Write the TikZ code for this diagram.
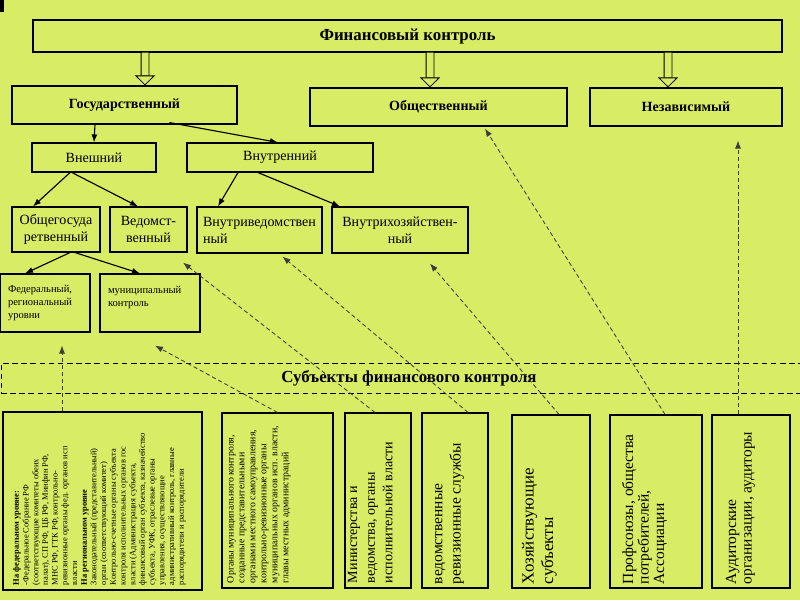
\documentclass[tikz,border=0pt]{standalone}
\usepackage{fontspec}
\setmainfont{Liberation Serif}
\usetikzlibrary{arrows.meta}
\definecolor{bgcol}{RGB}{216,236,102}
\definecolor{dashcol}{RGB}{60,60,60}
\newcommand{\pxu}{0.025cm}
\tikzset{
  box/.style={draw, line width=0.8pt, inner sep=1pt, align=center},
  head/.style={box, font=\bfseries\fontsize{10}{12}\selectfont},
  sub/.style={box, font=\fontsize{10}{12}\selectfont},
  small/.style={box, align=left, font=\fontsize{7.5}{9.5}\selectfont},
  vtext/.style={rotate=90, anchor=north west, align=left, inner sep=0pt},
  hollow/.style={double=bgcol, double distance=7*\pxu, line width=0.6pt,
    -{Triangle[open, length=10*\pxu, width=20*\pxu]}},
  dashto/.style={dashcol, line width=0.6pt, dash pattern=on 3pt off 2pt,
    -{Latex[length=2mm, width=1.5mm]}, >={Latex}},
}
\begin{document}
\begin{tikzpicture}[x=0.025cm, y=-0.025cm, ->, >={Latex[length=2mm, width=1.5mm]}, line width=0.8pt]
  \fill[bgcol] (0,0) rectangle (800,600);
  \fill[black] (0,0) rectangle (4,12);
  \useasboundingbox (0,0) rectangle (800,600);

  \node[head, font=\bfseries\fontsize{12}{14}\selectfont, minimum width=749*\pxu, minimum height=32*\pxu] (fin) at (407.5,36) {Финансовый контроль};
  \node[head, minimum width=225*\pxu, minimum height=38*\pxu] (gos) at (124.5,105) {Государственный};
  \node[head, minimum width=257*\pxu, minimum height=38*\pxu] (obsh) at (438.5,107) {Общественный};
  \node[head, minimum width=192*\pxu, minimum height=38*\pxu] (nez) at (686,107) {Независимый};

  \node[sub, minimum width=124*\pxu, minimum height=29*\pxu] (vnesh) at (94,157.5) {Внешний};
  \node[sub, minimum width=186*\pxu, minimum height=29*\pxu] (vnutr) at (280,157.5) {Внутренний};

  \node[sub, minimum width=88*\pxu, minimum height=45*\pxu] (obshg) at (56,229.5) {Общегосуда\\ретвенный};
  \node[sub, minimum width=77*\pxu, minimum height=45*\pxu] (vedm) at (148.5,229.5) {Ведомст-\\венный};
  \node[sub, align=left, minimum width=125*\pxu, minimum height=46*\pxu] (vnved) at (259.5,230) {Внутриведомствен\\ный};
  \node[sub, minimum width=136*\pxu, minimum height=46*\pxu] (vnhoz) at (400,230) {Внутрихозяйствен-\\ный};

  \node[small, text width=74*\pxu, inner xsep=8*\pxu, minimum height=58*\pxu] (fed) at (45,303) {Федеральный,\\региональный\\уровни};
  \node[small, text width=84*\pxu, inner xsep=8*\pxu, minimum height=58*\pxu] (mun) at (150,303) {муниципальный\\контроль\\ ~};

  \draw[hollow] ([xshift=-262.5*\pxu]fin.south) -- ([xshift=20.5*\pxu]gos.north);
  \draw[hollow] ([xshift=22.5*\pxu]fin.south) -- ([xshift=-8.5*\pxu]obsh.north);
  \draw[hollow] ([xshift=260.5*\pxu]fin.south) -- ([xshift=-18*\pxu]nez.north);

  \draw ([xshift=-29.5*\pxu]gos.south) -- (vnesh.north);
  \draw ([xshift=45*\pxu,yshift=2*\pxu]gos.south) -- ([xshift=-2*\pxu]vnutr.north);
  \draw ([xshift=-24*\pxu]vnesh.south) -- ([xshift=-23*\pxu]obshg.north);
  \draw ([xshift=-22*\pxu]vnesh.south) -- ([xshift=-10.5*\pxu]vedm.north);
  \draw ([xshift=-42*\pxu]vnutr.south) -- ([xshift=-41.5*\pxu]vnved.north);
  \draw ([xshift=-22*\pxu]vnutr.south) -- ([xshift=-60*\pxu]vnhoz.north);
  \draw ([xshift=14*\pxu]obshg.south) -- ([xshift=-20*\pxu]fed.north);
  \draw ([xshift=19*\pxu]obshg.south) -- ([xshift=-10*\pxu]mun.north);

  \node[draw, line width=0.7pt, dash pattern=on 4pt off 2.5pt, minimum width=816*\pxu, minimum height=30*\pxu,
    font=\bfseries\fontsize{12}{14}\selectfont] (subj) at (409,378) {Субъекты финансового контроля};

  \node[box, minimum width=199*\pxu, minimum height=178*\pxu] (s1) at (102.5,501) {};
  \node[box, minimum width=111*\pxu, minimum height=175*\pxu] (s2) at (277.5,500.5) {};
  \node[box, minimum width=66*\pxu, minimum height=175*\pxu] (s3) at (378,500.5) {};
  \node[box, minimum width=66*\pxu, minimum height=175*\pxu] (s4) at (455,500.5) {};
  \node[box, minimum width=78*\pxu, minimum height=173*\pxu] (s5) at (551,501.5) {};
  \node[box, minimum width=92*\pxu, minimum height=173*\pxu] (s6) at (656,501.5) {};
  \node[box, minimum width=78*\pxu, minimum height=173*\pxu] (s7) at (751,501.5) {};

  \node[vtext, font=\fontsize{6}{6.9}\selectfont] (t1) at ([shift={(10,-5)}]s1.south west)
    {\textbf{На федеральном уровне:}\\-Федеральное Собрание РФ\\(соответствующие комитеты обеих\\палат), СП РФ, ЦБ РФ, Минфин РФ,\\МНС РФ, ГТК РФ, контрольно-\\ревизионные органы фед. органов исп\\власти\\\textbf{На региональном уровне}\\Законодательный (представительный)\\орган (соответствующий комитет)\\Контрольно-счетные органы субъекта\\контроля исполнительных органов гос\\власти (Администрация субъекта,\\финансовый орган субъекта, казначейство\\субъекта, УФК, отраслевые органы\\управления, осуществляющие\\административный контроль, главные\\распорядители и распорядители};
  \node[vtext, font=\fontsize{7}{7.8}\selectfont] (t2) at ([shift={(5,-5)}]s2.south west)
    {Органы муниципального контроля,\\созданные представительными\\органами местного самоуправления,\\контрольно-ревизионные органы\\муниципальных органов исп. власти,\\главы местных администраций};
  \node[vtext, font=\fontsize{10}{12.5}\selectfont] (t3) at ([shift={(3,-5)}]s3.south west)
    {Министерства и\\ведомства, органы\\исполнительной власти};
  \node[vtext, font=\fontsize{11}{13}\selectfont] (t4) at ([shift={(13,-4)}]s4.south west)
    {ведомственные\\ревизионные службы};
  \node[vtext, font=\fontsize{12}{14}\selectfont] (t5) at ([shift={(10,-4)}]s5.south west)
    {Хозяйствующие\\субъекты};
  \node[vtext, font=\fontsize{11}{11}\selectfont] (t6) at ([shift={(12,-4)}]s6.south west)
    {Профсоюзы, общества\\потребителей,\\Ассоциации};
  \node[vtext, font=\fontsize{11}{11}\selectfont] (t7) at ([shift={(14,-4)}]s7.south west)
    {Аудиторские\\организации, аудиторы};

  \draw[dashto] ([xshift=-40.5*\pxu]s1.north) -- ([shift={(17,13)}]fed.south);
  \draw[dashto] (s2.north) -- ([shift={(5,13)}]mun.south);
  \draw[dashto] ([xshift=-3*\pxu]s3.north) -- ([shift={(34.5,10)}]vedm.south);
  \draw[dashto] ([xshift=13*\pxu]s4.north) -- ([shift={(23,3)}]vnved.south);
  \draw[dashto] ([xshift=8*\pxu]s5.north) -- ([shift={(30,10)}]vnhoz.south);
  \draw[dashto] ([xshift=9*\pxu]s6.north) -- ([shift={(46.5,2)}]obsh.south);
  \draw[dashto] ([xshift=-13*\pxu]s7.north) -- ([shift={(52,14)}]nez.south);
\end{tikzpicture}
\end{document}
